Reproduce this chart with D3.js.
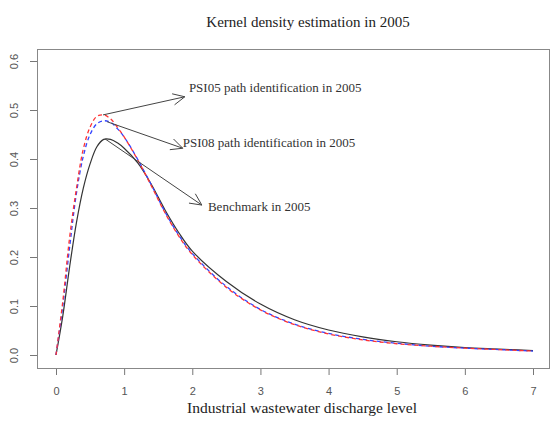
<!DOCTYPE html>
<html>
<head>
<meta charset="utf-8">
<script src="https://cdn.jsdelivr.net/npm/d3@7"></script>
<style>
  body { margin: 0; background: #fff; }
  .tick text { font-family: "Liberation Sans", Arial, sans-serif; font-size: 11px; fill: #555; }
  .tick line { stroke: #777; }
</style>
</head>
<body>
<script>
var xs = [0, 0.1, 0.2, 0.3, 0.4, 0.5, 0.6, 0.7, 0.8, 0.9, 1.0, 1.2, 1.4, 1.6, 1.8, 2.0, 2.5, 3.0, 3.5, 4.0, 4.5, 5.0, 5.5, 6.0, 6.5, 7.0];

var benchmark = [0, 0.08, 0.18, 0.27, 0.34, 0.39, 0.425, 0.44, 0.44, 0.433, 0.422, 0.392, 0.348, 0.296, 0.25, 0.212, 0.15, 0.104, 0.072, 0.051, 0.037, 0.027, 0.02, 0.015, 0.012, 0.009];
var psi05 = [0, 0.11, 0.24, 0.34, 0.42, 0.465, 0.487, 0.49, 0.482, 0.465, 0.445, 0.398, 0.345, 0.29, 0.243, 0.205, 0.138, 0.092, 0.062, 0.043, 0.031, 0.023, 0.018, 0.014, 0.011, 0.008];
var psi08 = [0, 0.10, 0.22, 0.33, 0.405, 0.45, 0.472, 0.478, 0.475, 0.462, 0.445, 0.399, 0.347, 0.292, 0.245, 0.207, 0.14, 0.093, 0.063, 0.044, 0.032, 0.024, 0.018, 0.014, 0.011, 0.008];

var xTicks = [0, 1, 2, 3, 4, 5, 6, 7];
var yTicks = [0.0, 0.1, 0.2, 0.3, 0.4, 0.5, 0.6];

// annotations: arrow start, arrow tip, label position
var notes = [
  {label: "PSI05 path identification in 2005", from: [0.69, 0.49], to: [1.89, 0.527], at: [1.95, 0.547]},
  {label: "PSI08 path identification in 2005", from: [0.75, 0.476], to: [1.86, 0.422], at: [1.86, 0.433]},
  {label: "Benchmark in 2005", from: [0.72, 0.441], to: [2.14, 0.306], at: [2.23, 0.304]}
];

var width = 551, height = 423;

var svg = d3.select("body").append("svg")
    .attr("width", width)
    .attr("height", height);

var x = d3.scaleLinear().domain([0, 7]).range([56, 533]);
var y = d3.scaleLinear().domain([0, 0.6]).range([355, 61]);

// plot frame
svg.append("rect")
    .attr("x", 37.5).attr("y", 49.5)
    .attr("width", 512).attr("height", 319)
    .attr("fill", "none")
    .attr("stroke", "#888")
    .attr("stroke-width", 1);

svg.append("g")
    .attr("transform", "translate(0,369)")
    .call(d3.axisBottom(x).tickValues(xTicks).tickSize(6).tickPadding(12).tickFormat(d3.format("d")))
    .call(function(g) { g.select(".domain").remove(); });

var yAxis = svg.append("g")
    .attr("transform", "translate(37,0)")
    .call(d3.axisLeft(y).tickValues(yTicks).tickSize(7).tickFormat(d3.format(".1f")))
    .call(function(g) { g.select(".domain").remove(); });

yAxis.selectAll(".tick text")
    .attr("x", 0).attr("dy", 0)
    .attr("transform", "translate(-19,0) rotate(-90)")
    .style("text-anchor", "middle");

var line = d3.line()
    .x(function(d, i) { return x(xs[i]); })
    .y(function(d) { return y(d); })
    .curve(d3.curveCatmullRom.alpha(0.5));

svg.append("path").datum(benchmark)
    .attr("d", line)
    .attr("fill", "none")
    .attr("stroke", "#333")
    .attr("stroke-width", 1.2);

svg.append("path").datum(psi08)
    .attr("d", line)
    .attr("fill", "none")
    .attr("stroke", "#3344ff")
    .attr("stroke-width", 1.3)
    .attr("stroke-dasharray", "4,3");

svg.append("path").datum(psi05)
    .attr("d", line)
    .attr("fill", "none")
    .attr("stroke", "#ff3333")
    .attr("stroke-width", 1.3)
    .attr("stroke-dasharray", "4,3");

// arrows with open heads
notes.forEach(function(n) {
  var x0 = x(n.from[0]), y0 = y(n.from[1]);
  var x1 = x(n.to[0]), y1 = y(n.to[1]);
  var a = Math.atan2(y1 - y0, x1 - x0);
  var len = 13, spread = Math.PI / 7;
  var h1 = [x1 - len * Math.cos(a - spread), y1 - len * Math.sin(a - spread)];
  var h2 = [x1 - len * Math.cos(a + spread), y1 - len * Math.sin(a + spread)];
  svg.append("path")
      .attr("d", "M" + x0 + "," + y0 + "L" + x1 + "," + y1 +
                 "M" + h1[0] + "," + h1[1] + "L" + x1 + "," + y1 + "L" + h2[0] + "," + h2[1])
      .attr("fill", "none")
      .attr("stroke", "#444")
      .attr("stroke-width", 1);

  svg.append("text")
      .attr("x", x(n.at[0]))
      .attr("y", y(n.at[1]))
      .attr("dy", "0.35em")
      .attr("font-family", "'Liberation Serif', 'Times New Roman', serif")
      .attr("font-size", "13px")
      .attr("fill", "#333")
      .text(n.label);
});

svg.append("text")
    .attr("x", 308).attr("y", 27)
    .attr("text-anchor", "middle")
    .attr("font-family", "'Liberation Serif', 'Times New Roman', serif")
    .attr("font-size", "15px")
    .attr("fill", "#222")
    .text("Kernel density estimation in 2005");

svg.append("text")
    .attr("x", 302).attr("y", 413)
    .attr("text-anchor", "middle")
    .attr("font-family", "'Liberation Serif', 'Times New Roman', serif")
    .attr("font-size", "15.5px")
    .attr("fill", "#222")
    .text("Industrial wastewater discharge level");
</script>
</body>
</html>
